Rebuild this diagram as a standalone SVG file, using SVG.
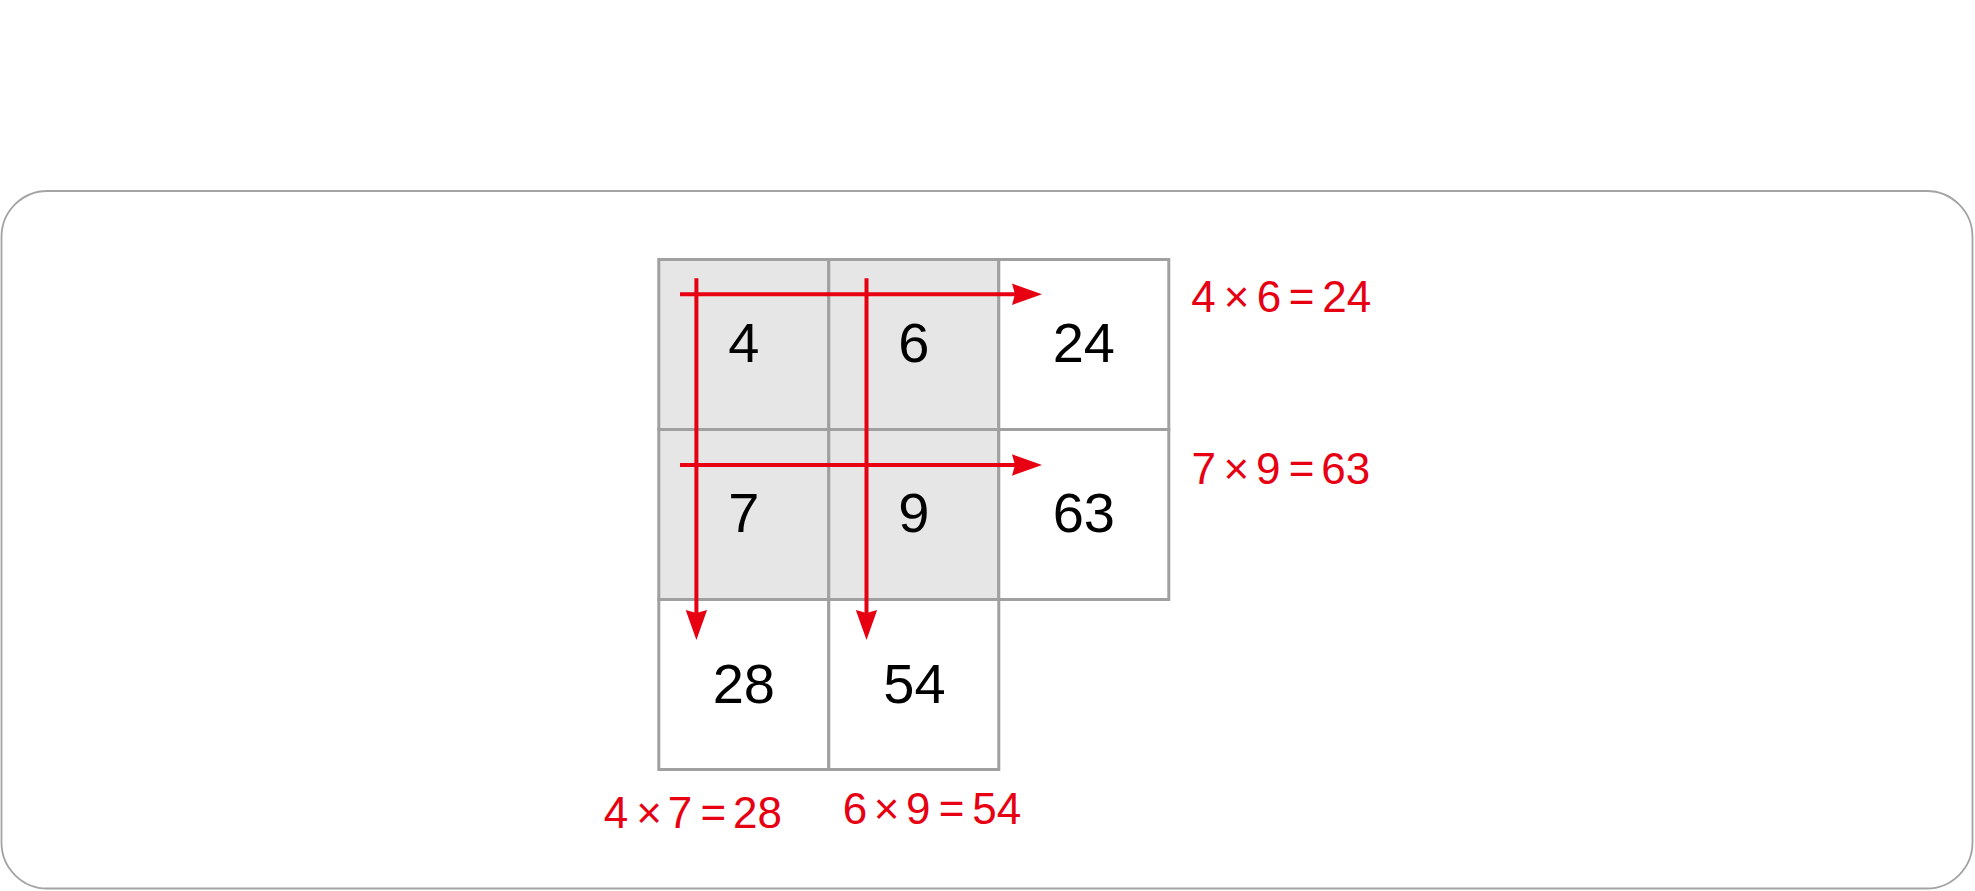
<svg xmlns="http://www.w3.org/2000/svg" width="1975" height="891" viewBox="0 0 1975 891">
<style>
.frame{fill:#ffffff;stroke:#a3a3a3;stroke-width:1.8}
.cell{stroke:#a0a0a0;stroke-width:3}
.in{fill:#e6e6e6}
.out{fill:#ffffff}
.num{font-family:"Liberation Sans",Arial,sans-serif;font-size:56px;fill:#000000;text-anchor:middle}
.eq{font-family:"Liberation Sans",Arial,sans-serif;font-size:44px;fill:#e60012;text-anchor:middle}
.arrow{stroke:#e60012;stroke-width:4;fill:none}
</style>
<defs>
<marker id="ah" markerUnits="userSpaceOnUse" markerWidth="32" markerHeight="24" viewBox="0 0 32 24" refX="3" refY="12" orient="auto">
<path d="M0,1.3 L30,12 L0,22.7 L3,12 Z" fill="#e60012"/>
</marker>
</defs>
<rect class="frame" x="1.5" y="191" width="1971" height="697.5" rx="46" ry="46"/>
<g id="cell-4"><rect class="cell in" x="658.8" y="259.5" width="170" height="170"/><text class="num" x="743.8" y="362">4</text></g>
<g id="cell-6"><rect class="cell in" x="828.8" y="259.5" width="170" height="170"/><text class="num" x="913.8" y="362">6</text></g>
<g id="cell-24"><rect class="cell out" x="998.8" y="259.5" width="170" height="170"/><text class="num" x="1083.8" y="362">24</text></g>
<g id="cell-7"><rect class="cell in" x="658.8" y="429.5" width="170" height="170"/><text class="num" x="743.8" y="532">7</text></g>
<g id="cell-9"><rect class="cell in" x="828.8" y="429.5" width="170" height="170"/><text class="num" x="913.8" y="532">9</text></g>
<g id="cell-63"><rect class="cell out" x="998.8" y="429.5" width="170" height="170"/><text class="num" x="1083.8" y="532">63</text></g>
<g id="cell-28"><rect class="cell out" x="658.8" y="599.5" width="170" height="170"/><text class="num" x="743.8" y="702.5">28</text></g>
<g id="cell-54"><rect class="cell out" x="828.8" y="599.5" width="170" height="170"/><text class="num" x="914.5" y="702.5">54</text></g>
<g id="connectors">
<path class="arrow" d="M696.4,278.3 V613" marker-end="url(#ah)"/>
<path class="arrow" d="M866.5,278.3 V613" marker-end="url(#ah)"/>
<path class="arrow" d="M680,294.3 H1015" marker-end="url(#ah)"/>
<path class="arrow" d="M680,465 H1015" marker-end="url(#ah)"/>
</g>
<g id="labels">
<text class="eq" y="312"><tspan x="1203.6">4</tspan><tspan x="1236.7">×</tspan><tspan x="1269">6</tspan><tspan x="1301.7">=</tspan><tspan x="1346.7">24</tspan></text>
<text class="eq" y="484"><tspan x="1203.8">7</tspan><tspan x="1236.3">×</tspan><tspan x="1268.3">9</tspan><tspan x="1301.7">=</tspan><tspan x="1345.8">63</tspan></text>
<text class="eq" y="828"><tspan x="616">4</tspan><tspan x="649">×</tspan><tspan x="680">7</tspan><tspan x="713.3">=</tspan><tspan x="757.5">28</tspan></text>
<text class="eq" y="824"><tspan x="855">6</tspan><tspan x="886.7">×</tspan><tspan x="918.3">9</tspan><tspan x="951.7">=</tspan><tspan x="996.7">54</tspan></text>
</g>
</svg>
